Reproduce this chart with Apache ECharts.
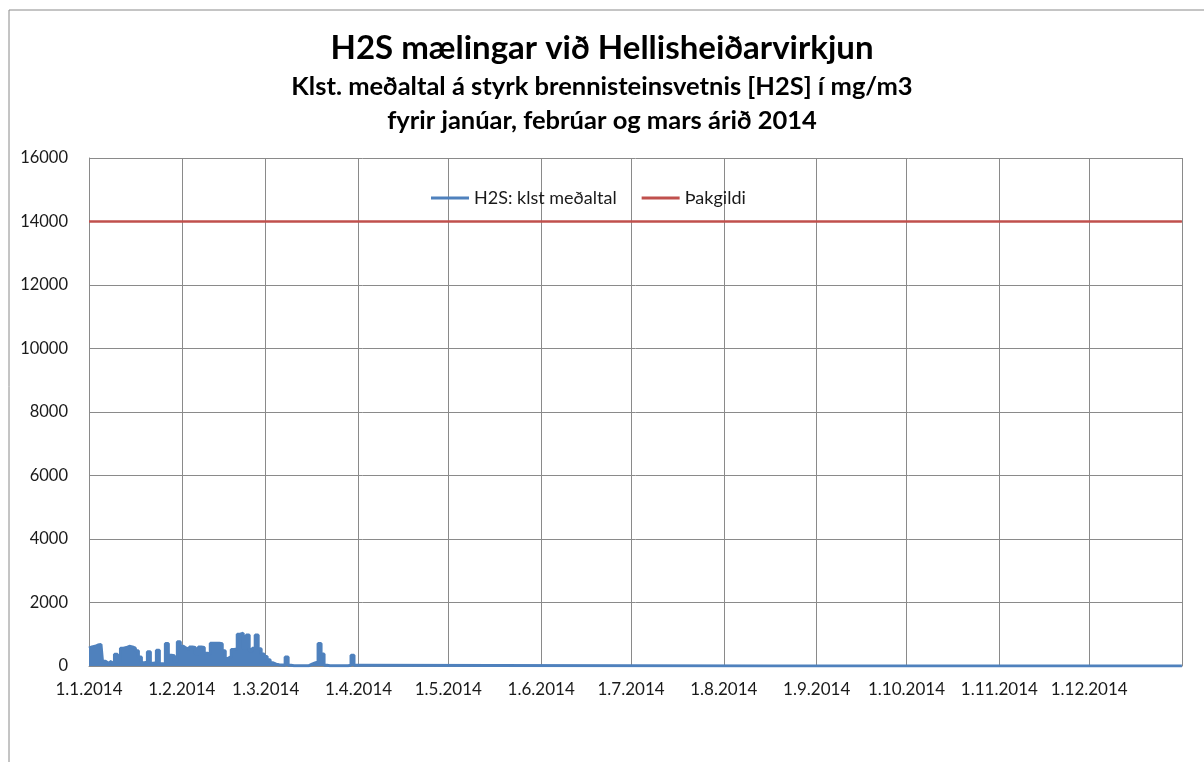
<!DOCTYPE html>
<html>
<head>
<meta charset="utf-8">
<script src="https://cdn.jsdelivr.net/npm/echarts@6.0.0/dist/echarts.min.js"></script>
<style>
  html, body { margin: 0; padding: 0; background: #fff; }
  #main { width: 1204px; height: 762px; }
</style>
</head>
<body>
<div id="main"></div>
<script>
var chartDom = document.getElementById('main');
var myChart = echarts.init(chartDom);

// daily level of the hourly H2S readings
var janH2S = [560, 600, 620, 660, 680, 150, 90, 150, 80, 370, 120, 560, 580, 620, 600, 560,
  480, 280, 100, 120, 450, 90, 100, 500, 70, 60, 710, 340, 320, 150, 760];
var febH2S = [620, 560, 520, 600, 580, 380, 600, 580, 400, 380, 720, 720, 720, 700, 480, 240,
  300, 520, 540, 1000, 1030, 560, 980, 480, 560, 980, 540, 380];
var marH2S = [300, 200, 100, 60, 40, 30, 20, 280, 20, 10, 10, 10, 10, 10, 10, 60,
  100, 130, 710, 380, 20, 10, 10, 10, 10, 10, 10, 10, 20, 340, 20];
// after March the series sits at zero for the rest of the year
var restDates = ['2014-04-01', '2014-12-31 23:00'];
var restH2S = [0, 0];

var limitDates = ['2014-01-01', '2014-12-31 23:00'];
var limitValues = [14000, 14000];

var yTicks = { min: 0, max: 16000, interval: 2000 };

var h2sData = [];
janH2S.concat(febH2S, marH2S).forEach(function (v, i) {
  h2sData.push([new Date(2014, 0, 1 + i), v]);
});
restDates.forEach(function (d, i) {
  h2sData.push([d, restH2S[i]]);
});
var limitData = limitDates.map(function (d, i) { return [d, limitValues[i]]; });

var font = 'Lato';

var option = {
  backgroundColor: '#fff',
  animation: false,
  title: [
    {
      text: 'H2S mælingar við Hellisheiðarvirkjun',
      left: 'center', top: 27,
      textStyle: { fontFamily: font, fontWeight: 'bold', fontSize: 33, color: '#000' }
    },
    {
      text: 'Klst. meðaltal á styrk brennisteinsvetnis [H2S] í mg/m3',
      left: 'center', top: 69,
      textStyle: { fontFamily: font, fontWeight: 'bold', fontSize: 25.5, color: '#000' }
    },
    {
      text: 'fyrir janúar, febrúar og mars árið 2014',
      left: 'center', top: 103,
      textStyle: { fontFamily: font, fontWeight: 'bold', fontSize: 25.5, color: '#000' }
    }
  ],
  graphic: [
    {
      type: 'rect',
      shape: { x: 9, y: 10, width: 1300, height: 900 },
      style: { fill: 'none', stroke: '#8a8a8a', lineWidth: 1 },
      silent: true
    }
  ],
  legend: {
    top: 184,
    left: 426,
    icon: 'rect',
    itemWidth: 38,
    itemHeight: 3,
    itemGap: 25,
    textStyle: { fontFamily: font, fontSize: 18, color: '#1a1a1a' },
    data: ['H2S: klst meðaltal', 'Þakgildi']
  },
  grid: { left: 89, right: 22, top: 158, bottom: 96 },
  xAxis: {
    type: 'time',
    min: '2014-01-01',
    max: '2015-01-01',
    minInterval: 28 * 24 * 3600 * 1000,
    maxInterval: 31 * 24 * 3600 * 1000,
    axisLine: { show: true, lineStyle: { color: '#8a8a8a', width: 1 } },
    axisTick: { show: false },
    splitLine: { show: true, lineStyle: { color: '#8a8a8a', width: 1 } },
    axisLabel: {
      margin: 15,
      fontFamily: font,
      fontSize: 17,
      color: '#1a1a1a',
      showMaxLabel: false,
      formatter: function (val) {
        var d = new Date(val);
        if (d.getFullYear() !== 2014) return '';
        return d.getDate() + '.' + (d.getMonth() + 1) + '.' + d.getFullYear();
      }
    }
  },
  yAxis: {
    type: 'value',
    min: yTicks.min,
    max: yTicks.max,
    interval: yTicks.interval,
    axisLine: { show: true, lineStyle: { color: '#8a8a8a', width: 1 } },
    axisTick: { show: false },
    splitLine: { show: true, lineStyle: { color: '#8a8a8a', width: 1 } },
    axisLabel: {
      margin: 21, fontFamily: font, fontSize: 16.5, color: '#1a1a1a',
      formatter: function (v) { return String(v); }
    }
  },
  series: [
    {
      name: 'H2S: klst meðaltal',
      type: 'line',
      step: 'middle',
      symbol: 'none',
      color: '#4F81BD',
      lineStyle: { width: 3, color: '#4F81BD' },
      areaStyle: { color: '#4F81BD', opacity: 1 },
      data: h2sData
    },
    {
      name: 'Þakgildi',
      type: 'line',
      symbol: 'none',
      color: '#C0504D',
      lineStyle: { width: 2.5, color: '#C0504D' },
      data: limitData
    }
  ]
};

option && myChart.setOption(option);
</script>
</body>
</html>
